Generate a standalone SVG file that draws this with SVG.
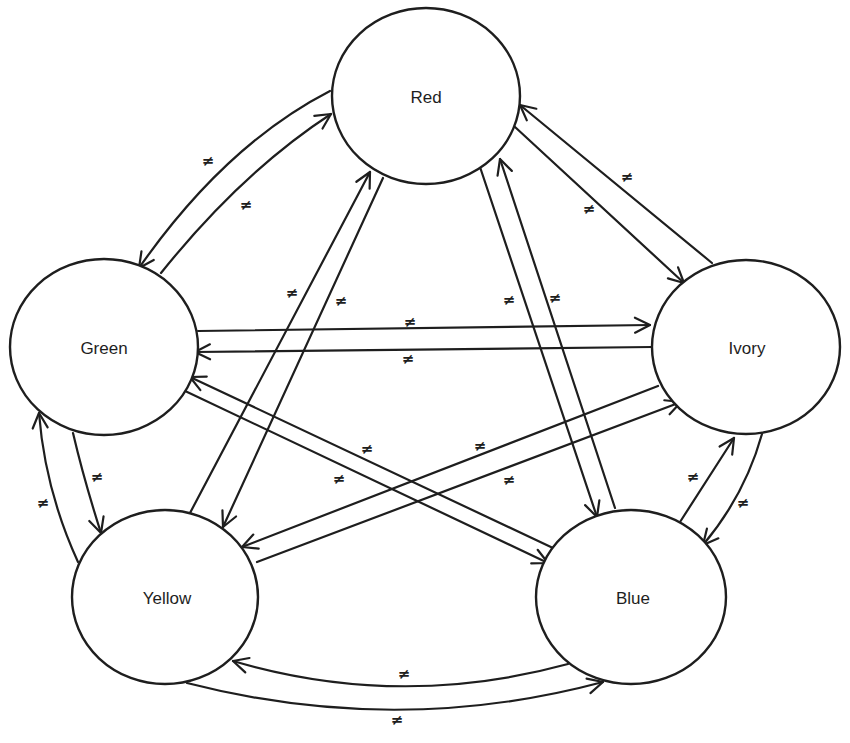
<svg xmlns="http://www.w3.org/2000/svg" width="850" height="743" viewBox="0 0 850 743">
<style>
.node{fill:#ffffff;stroke:#1e1e1e;stroke-width:2.4}
.lbl{font-family:"Liberation Sans",Arial,sans-serif;font-size:17px;fill:#1e1e1e;text-anchor:middle;dominant-baseline:central}
.edge{fill:none;stroke:#1e1e1e;stroke-width:2.2;marker-end:url(#arr);stroke-linecap:round}
.ne{font-family:"DejaVu Sans",sans-serif;font-size:15px;font-weight:bold;fill:#1e1e1e;text-anchor:middle;dominant-baseline:central}
</style>
<defs>
<marker id="arr" markerUnits="userSpaceOnUse" markerWidth="24" markerHeight="24" refX="0" refY="0" viewBox="-18 -12 24 24" orient="auto" overflow="visible">
<path d="M-15,-7.5 L0,0 L-15,7.5" fill="none" stroke="#1e1e1e" stroke-width="2.2" stroke-linecap="round" stroke-linejoin="round"/>
</marker>
</defs>
<rect width="850" height="743" fill="#ffffff"/>
<g id="connectors">
<path class="edge" d="M330,91 Q225,145 139,268"/>
<path class="edge" d="M161,273 Q242,172 331,114"/>
<path class="edge" d="M515,127 L684,283"/>
<path class="edge" d="M712,263 L520,105"/>
<path class="edge" d="M198,331 L650,325"/>
<path class="edge" d="M652,347 L195,352"/>
<path class="edge" d="M383,178 L223,527"/>
<path class="edge" d="M190,513 L370,172"/>
<path class="edge" d="M479,164 L597,517"/>
<path class="edge" d="M615,508 L500,159"/>
<path class="edge" d="M73,433 Q84,480 101,533"/>
<path class="edge" d="M78,562 Q45,490 39,413"/>
<path class="edge" d="M183,390 L548,563"/>
<path class="edge" d="M553,548 L190,377"/>
<path class="edge" d="M257,562 L681,402"/>
<path class="edge" d="M658,386 L242,547"/>
<path class="edge" d="M762,434 Q745,495 703,545"/>
<path class="edge" d="M680,522 L734,438"/>
<path class="edge" d="M568,664 Q400,710 233,661"/>
<path class="edge" d="M187,683 Q397,737 603,682"/>
<text class="ne" x="208" y="161">≠</text>
<text class="ne" x="246" y="205">≠</text>
<text class="ne" x="589" y="209">≠</text>
<text class="ne" x="627" y="177">≠</text>
<text class="ne" x="410" y="322">≠</text>
<text class="ne" x="408" y="359">≠</text>
<text class="ne" x="341" y="301">≠</text>
<text class="ne" x="292" y="293">≠</text>
<text class="ne" x="509" y="300">≠</text>
<text class="ne" x="555" y="298">≠</text>
<text class="ne" x="97" y="477">≠</text>
<text class="ne" x="43" y="503">≠</text>
<text class="ne" x="339" y="479">≠</text>
<text class="ne" x="367" y="449">≠</text>
<text class="ne" x="509" y="480">≠</text>
<text class="ne" x="480" y="446">≠</text>
<text class="ne" x="743" y="503">≠</text>
<text class="ne" x="693" y="477">≠</text>
<text class="ne" x="404" y="674">≠</text>
<text class="ne" x="397" y="720">≠</text>
</g>
<g id="red"><ellipse class="node" cx="426" cy="96" rx="94" ry="88"/><text class="lbl" x="426" y="97">Red</text></g>
<g id="green"><ellipse class="node" cx="104" cy="347" rx="94" ry="88"/><text class="lbl" x="104" y="348">Green</text></g>
<g id="ivory"><ellipse class="node" cx="746" cy="347" rx="94" ry="87"/><text class="lbl" x="747" y="348">Ivory</text></g>
<g id="yellow"><ellipse class="node" cx="165" cy="597" rx="93" ry="87"/><text class="lbl" x="167" y="598">Yellow</text></g>
<g id="blue"><ellipse class="node" cx="631" cy="597" rx="95" ry="87"/><text class="lbl" x="633" y="598">Blue</text></g>
</svg>
